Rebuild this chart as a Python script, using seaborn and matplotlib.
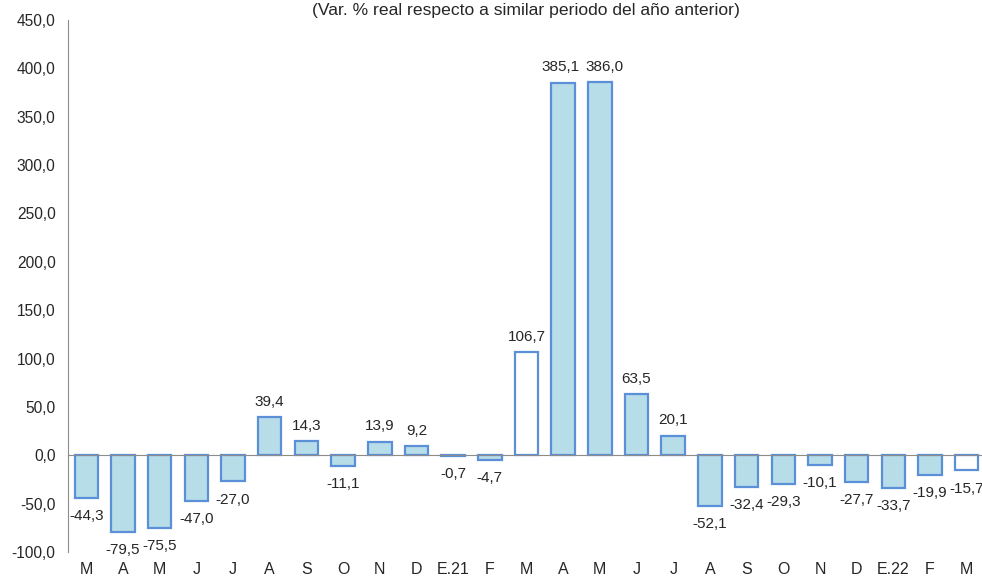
import numpy as np
import pandas as pd
import matplotlib
matplotlib.use("Agg")
import matplotlib.pyplot as plt
import matplotlib.transforms as mtransforms
import seaborn as sns

# Data
months = ["M", "A", "M", "J", "J", "A", "S", "O", "N", "D", "E.21", "F",
          "M", "A", "M", "J", "J", "A", "S", "O", "N", "D", "E.22", "F", "M"]
values = [-44.3, -79.5, -75.5, -47.0, -27.0, 39.4, 14.3, -11.1, 13.9, 9.2, -0.7, -4.7,
          106.7, 385.1, 386.0, 63.5, 20.1, -52.1, -32.4, -29.3, -10.1, -27.7, -33.7, -19.9, -15.7]
highlight = [12, 24]  # bars drawn with white fill
title = "(Var. % real respecto a similar periodo del año anterior)"

df = pd.DataFrame({
    "pos": [str(i) for i in range(len(values))],
    "value": values,
    "kind": ["white" if i in highlight else "blue" for i in range(len(values))],
})

sns.set_style("white")
plt.rcParams["font.family"] = ["Liberation Sans", "DejaVu Sans"]

fig = plt.figure(figsize=(9.82, 5.76), dpi=100)
ax = fig.add_axes([68 / 982, 24 / 576, 917 / 982, 532 / 576])

sns.barplot(data=df, x="pos", y="value", hue="kind", order=df["pos"],
            palette={"blue": "#b7dde8", "white": "#ffffff"}, dodge=False,
            saturation=1, width=0.64, edgecolor="#5b8fd8", linewidth=1.6,
            legend=False, ax=ax)

ax.set_xlim(-0.5, len(values) - 0.5)
ax.set_ylim(-100, 450)
ax.set_yticks(np.arange(-100, 451, 50))
ax.set_yticklabels([f"{v:.1f}".replace(".", ",") for v in np.arange(-100, 451, 50)],
                   fontsize=11.2)
ax.set_xlabel("")
ax.set_ylabel("")

# x axis line at zero with tick marks between categories
for s in ["top", "right"]:
    ax.spines[s].set_visible(False)
ax.spines["left"].set_color("#8c8c8c")
ax.spines["bottom"].set_position(("data", 0))
ax.spines["bottom"].set_color("#8c8c8c")
ax.set_xticks(np.arange(len(values)) + 0.5)
ax.set_xticklabels([])
ax.tick_params(axis="x", direction="out", length=4, color="#8c8c8c", width=1)
ax.tick_params(axis="y", direction="out", length=5, color="#8c8c8c", width=1, pad=4)
ax.set_axisbelow(False)

# category labels at the bottom of the figure
trans = mtransforms.blended_transform_factory(ax.transData, fig.transFigure)
for i, m in enumerate(months):
    ax.text(i, 1 - 569 / 576, m, transform=trans, ha="center", va="center",
            fontsize=11.5, clip_on=False)

# value labels (the two tall bars get their labels pushed apart a bit)
nudge = {13: -2, 14: 3}
for i, v in enumerate(values):
    lab = f"{v:.1f}".replace(".", ",")
    if v >= 0:
        ax.annotate(lab, (i, v), xytext=(nudge.get(i, 0), 6), textcoords="offset points",
                    ha="center", va="bottom", fontsize=11)
    else:
        ax.annotate(lab, (i, v), xytext=(0, -8), textcoords="offset points",
                    ha="center", va="top", fontsize=11, annotation_clip=False)

fig.text(526 / 982, 1 - 10 / 576, title, ha="center", va="center", fontsize=12.6)

fig.savefig("out.png", dpi=100)
